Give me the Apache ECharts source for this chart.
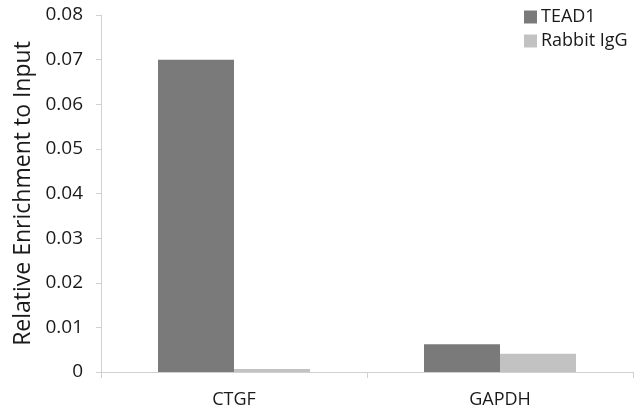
<!DOCTYPE html>
<html><head><meta charset="utf-8">
<script src="https://cdn.jsdelivr.net/npm/echarts@6/dist/echarts.min.js"></script>
<style>html,body{margin:0;padding:0;background:#fff}#c{width:640px;height:416px}</style>
</head><body><div id="c"></div>
<script>
const categories = ['CTGF', 'GAPDH'];
const tead1 = [0.070, 0.0062];
const rabbitIgG = [0.0007, 0.0041];
const yTicks = ['0', '0.01', '0.02', '0.03', '0.04', '0.05', '0.06', '0.07', '0.08'];

const font = 'Open Sans';
const chart = echarts.init(document.getElementById('c'));
chart.setOption({
  animation: false,
  backgroundColor: '#fff',
  grid: { left: 101, right: 7, top: 15, bottom: 44, containLabel: false },
  legend: {
    orient: 'vertical', left: 519, top: 3, itemWidth: 13, itemHeight: 13, itemGap: 6,
    icon: 'rect',
    textStyle: { fontFamily: font, fontSize: 18, color: '#1a1a1a', padding: [0, 0, 0, -1] },
    data: ['TEAD1', 'Rabbit IgG']
  },
  xAxis: {
    type: 'category', data: categories,
    axisLine: { lineStyle: { color: '#d0d0d0', width: 1 } },
    axisTick: { show: true, alignWithLabel: false, length: 6, lineStyle: { color: '#d0d0d0' } },
    axisLabel: { fontFamily: font, fontSize: 18, color: '#1a1a1a', margin: 19 }
  },
  yAxis: {
    type: 'value', min: 0, max: 0.08, interval: 0.01,
    name: 'Relative Enrichment to Input', nameLocation: 'middle', nameGap: 64,
    nameTextStyle: { fontFamily: font, fontSize: 23, color: '#1a1a1a' },
    axisLine: { show: true, lineStyle: { color: '#d0d0d0' } },
    axisTick: { show: true, inside: false, length: 5, lineStyle: { color: '#d0d0d0' } },
    splitLine: { show: false },
    axisLabel: { fontFamily: font, fontSize: 19, color: '#1a1a1a', margin: 18,
      formatter: (v) => yTicks[Math.round(v * 100)] }
  },
  series: [
    { name: 'TEAD1', type: 'bar', data: tead1, barWidth: 76, barGap: '0%', itemStyle: { color: '#7a7a7a' } },
    { name: 'Rabbit IgG', type: 'bar', data: rabbitIgG, barWidth: 76, barGap: '0%', itemStyle: { color: '#c2c2c2' } }
  ]
});
</script></body></html>
